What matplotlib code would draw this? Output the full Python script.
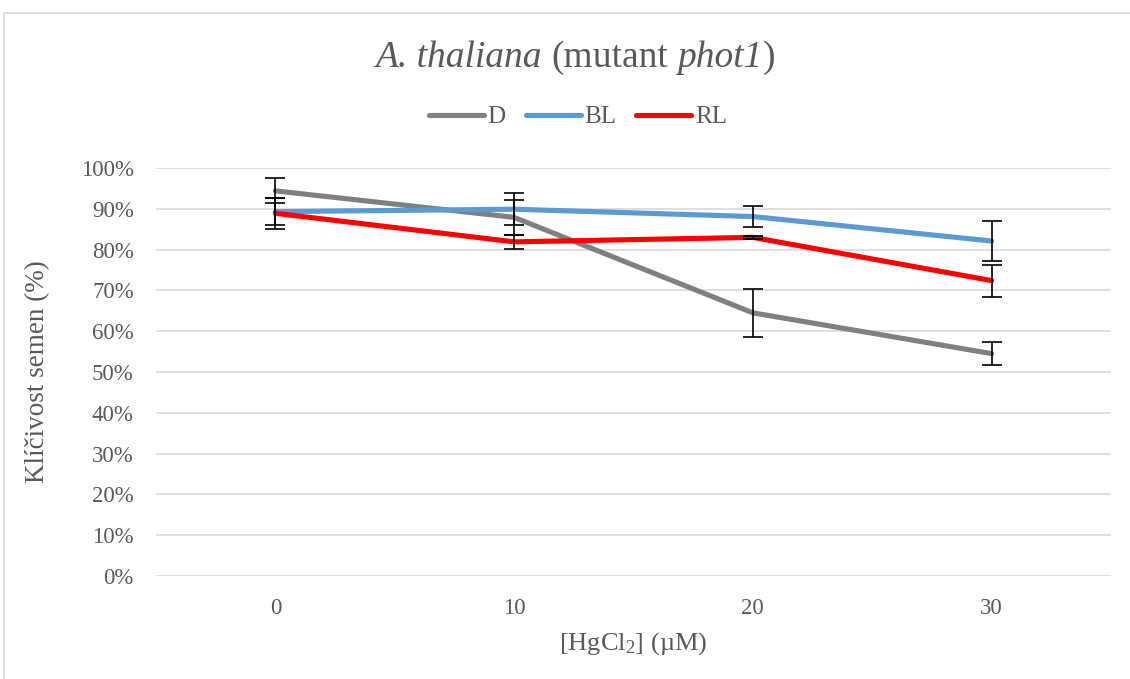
import numpy as np
import matplotlib.pyplot as plt
from matplotlib.patches import Rectangle
from matplotlib.offsetbox import TextArea, HPacker, AnchoredOffsetbox

plt.rcParams['font.family'] = ['Liberation Serif', 'DejaVu Serif']
plt.rcParams['mathtext.fontset'] = 'custom'
plt.rcParams['mathtext.rm'] = 'Liberation Serif'
plt.rcParams['mathtext.it'] = 'Liberation Serif:italic'

# data
conc = ['0', '10', '20', '30']
d_vals = [0.944, 0.879, 0.645, 0.545]
d_err = [0.031, 0.042, 0.058, 0.029]
bl_vals = [0.893, 0.899, 0.881, 0.821]
bl_err = [0.033, 0.039, 0.026, 0.049]
rl_vals = [0.889, 0.819, 0.830, 0.724]
rl_err = [0.038, 0.017, 0.004, 0.039]

txt = '#595959'
fig = plt.figure(figsize=(11.3, 6.79), dpi=100)
fig.patches.append(Rectangle((4 / 1130, -0.01), 1.02, 1 - 13 / 679 + 0.01,
                             transform=fig.transFigure, fill=False,
                             edgecolor='#D9D9D9', linewidth=1.2))

ax = fig.add_axes([156 / 1130, 1 - 576 / 679, (1111 - 156) / 1130, (576 - 168) / 679])
x = np.arange(len(conc))

series = [('D', d_vals, d_err, '#808080'),
          ('BL', bl_vals, bl_err, '#5B9BD5'),
          ('RL', rl_vals, rl_err, '#FF0000')]
for name, vals, err, col in series:
    ax.plot(x, vals, color=col, lw=3.7, solid_capstyle='round', label=name, zorder=3)
    ax.errorbar(x, vals, yerr=err, fmt='none', ecolor='black', elinewidth=1.2,
                capsize=7, capthick=1.2, zorder=4)

ax.set_xlim(-0.5, 3.5)
ax.set_ylim(0, 1.0)
ax.set_yticks(np.arange(0, 1.01, 0.1))
ax.set_yticklabels([f'{int(round(v * 100))}%' for v in np.arange(0, 1.01, 0.1)])
ax.set_xticks(x)
ax.set_xticklabels(conc)
ax.grid(axis='y', color='#D9D9D9', lw=1.2)
ax.set_axisbelow(True)
for s in ax.spines.values():
    s.set_visible(False)
ax.tick_params(length=0, labelsize=16.5, colors=txt)
ax.tick_params(axis='y', pad=16)
ax.tick_params(axis='x', pad=16)

ax.set_ylabel('Klíčivost semen (%)', fontsize=19.5, color=txt, labelpad=22)
ax.set_xlabel('[HgCl$_2$] (µM)', fontsize=19, color=txt, labelpad=8)

# title with mixed italic / upright parts
tp = dict(fontsize=27, color=txt)
it = dict(tp, style='italic')
tail = HPacker(children=[TextArea('phot1', textprops=it), TextArea(')', textprops=tp)],
               pad=0, sep=0, align='baseline')
title = HPacker(children=[TextArea('A. thaliana', textprops=it),
                          TextArea('(mutant', textprops=tp), tail],
                pad=0, sep=6.7, align='baseline')
fig.add_artist(AnchoredOffsetbox(loc='center', child=title, pad=0, borderpad=0,
                                 bbox_to_anchor=(575 / 1130, 1 - 58 / 679),
                                 bbox_transform=fig.transFigure, frameon=False))

leg = ax.legend(loc='center', bbox_to_anchor=(578 / 1130, 1 - 117 / 679),
                bbox_transform=fig.transFigure, ncol=3, frameon=False, fontsize=18,
                labelcolor=txt, handlelength=2.2, handletextpad=0.15, columnspacing=0.8)
for h in leg.get_lines():
    h.set_solid_capstyle('round')

fig.savefig('out.png', dpi=100)
